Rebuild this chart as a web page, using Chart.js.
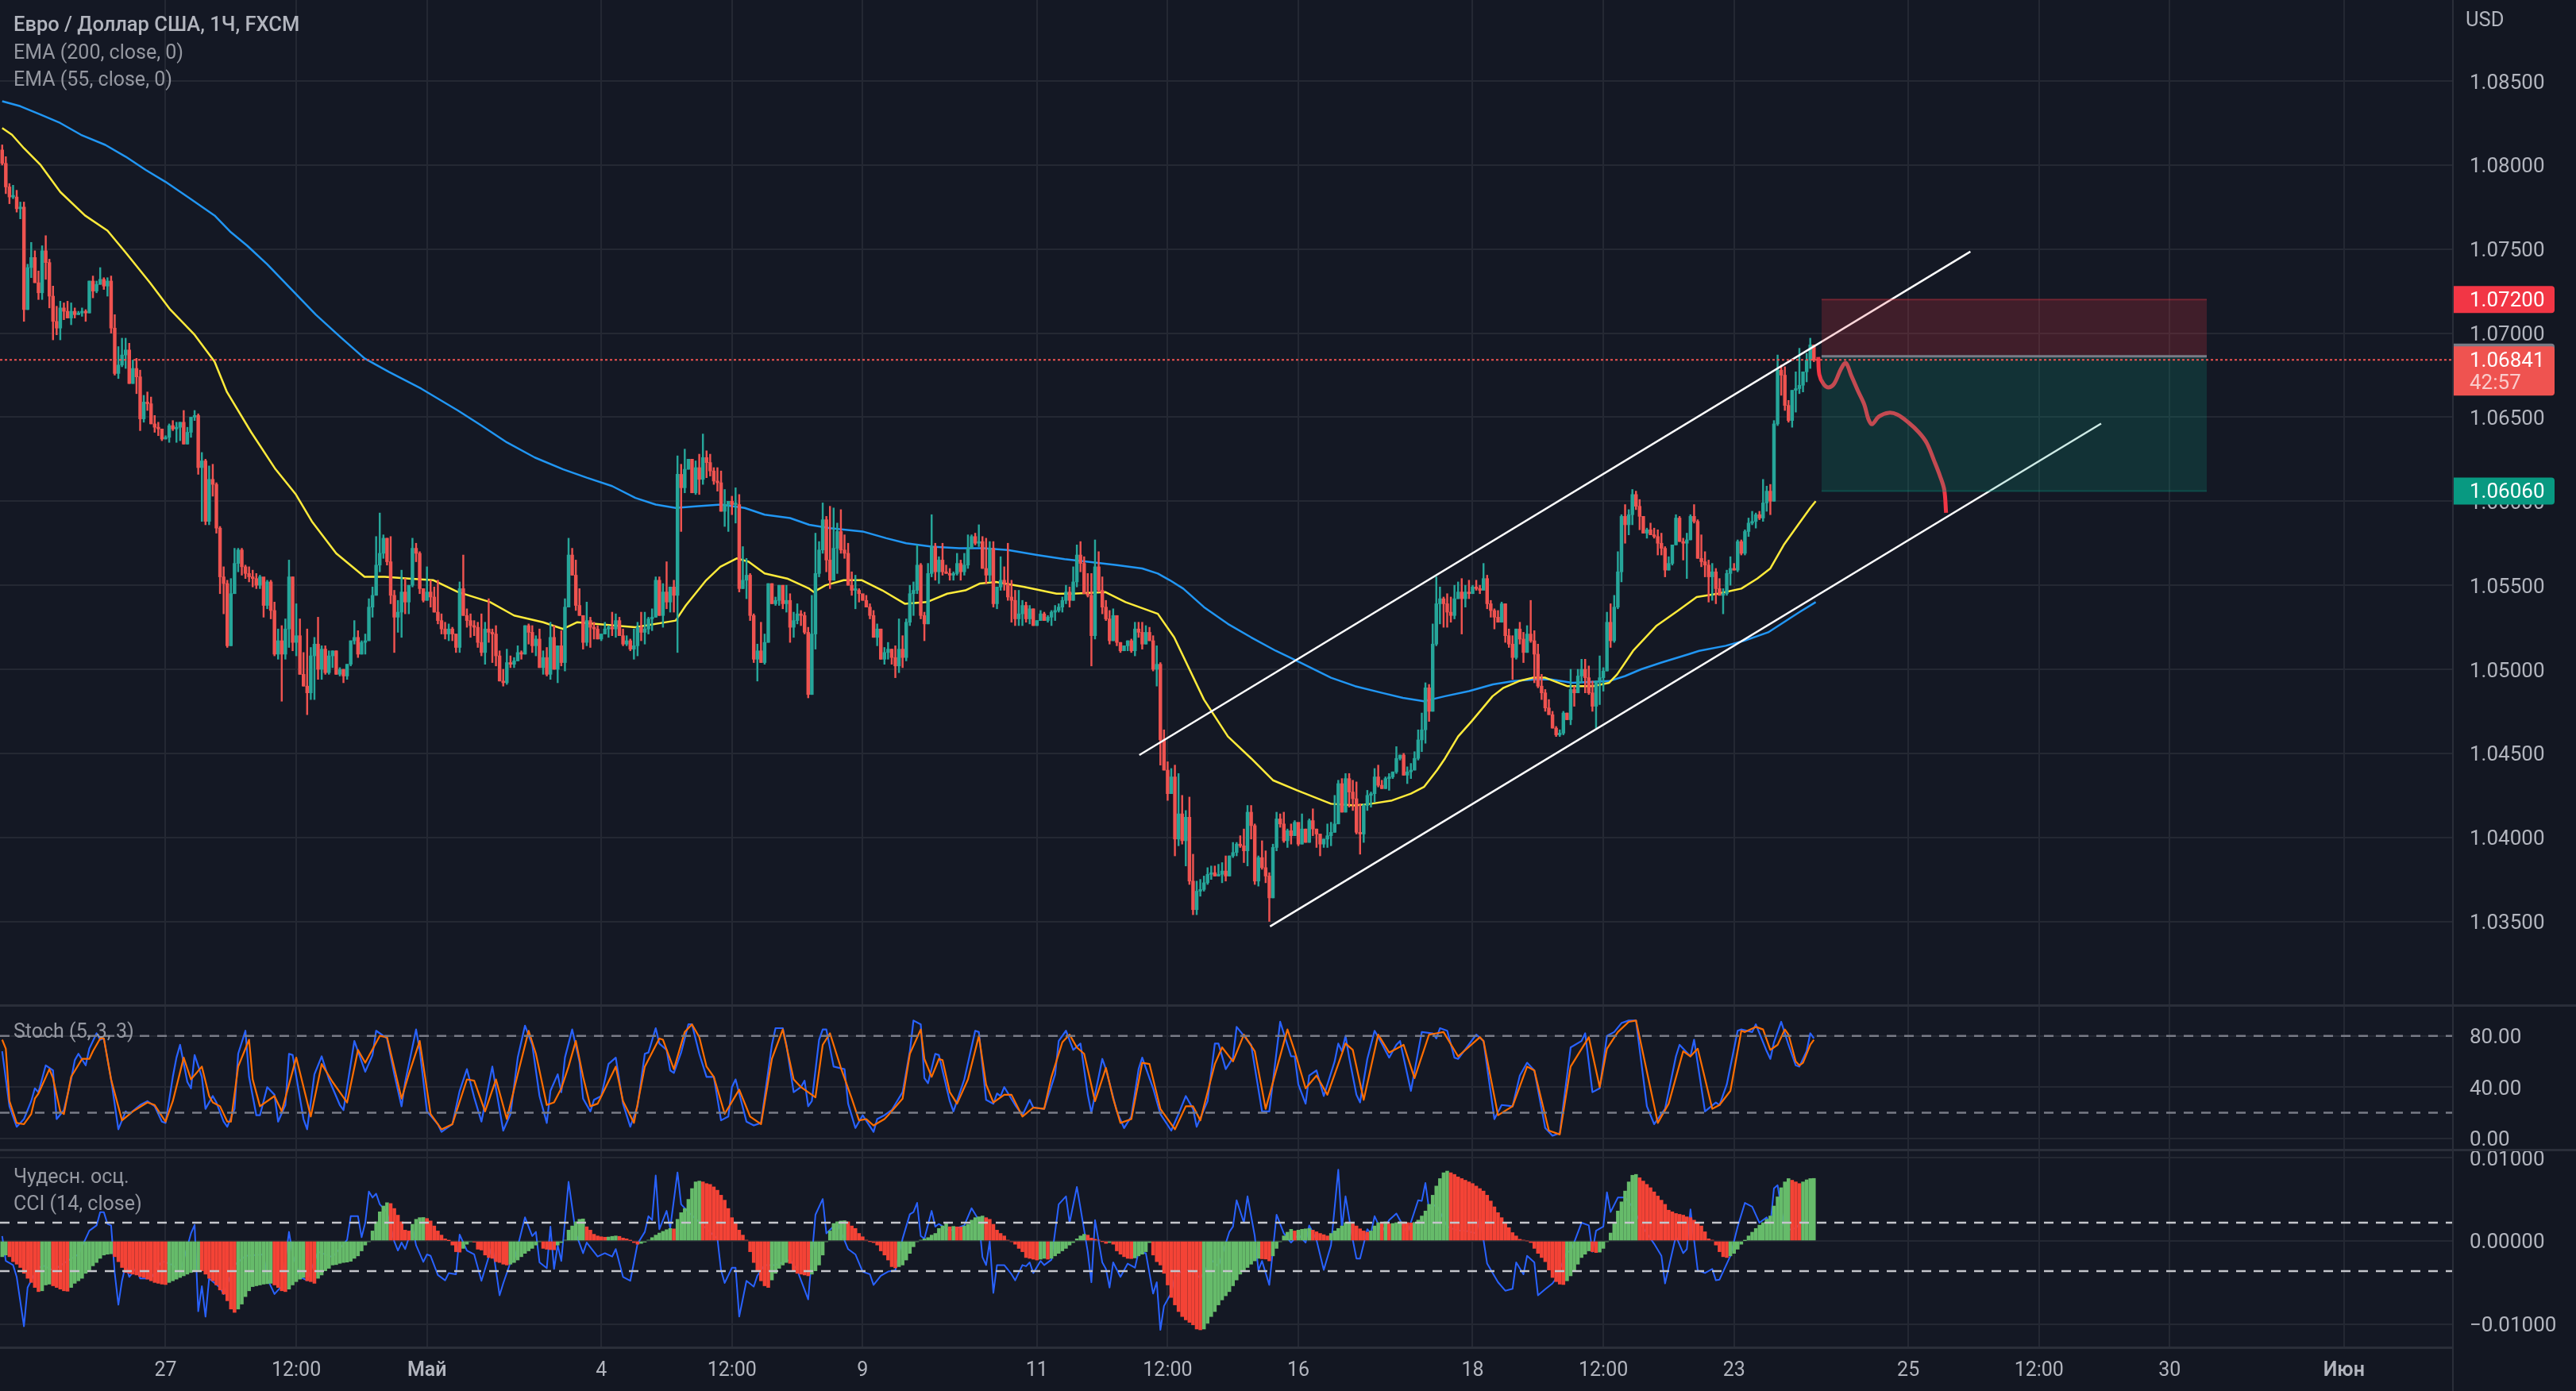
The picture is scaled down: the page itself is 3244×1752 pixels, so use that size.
<!DOCTYPE html>
<html><head><meta charset="utf-8">
<script src="https://cdn.jsdelivr.net/npm/chart.js@4"></script>
<style>
html,body{margin:0;padding:0;background:#131722;width:3244px;height:1752px;overflow:hidden}
canvas{position:absolute;left:0;display:block}
.sep{position:absolute;background:#2a2e39}
</style></head><body>
<canvas id="main" width="3244" height="1266" style="top:0;width:3244px;height:1266px"></canvas>
<canvas id="stoch" width="3244" height="182" style="top:1266px;width:3244px;height:182px"></canvas>
<canvas id="wonder" width="3244" height="304" style="top:1448px;width:3244px;height:304px"></canvas>
<div class="sep" style="left:0;top:1265px;width:3244px;height:3px"></div>
<div class="sep" style="left:0;top:1447px;width:3244px;height:3px"></div>
<div class="sep" style="left:0;top:1696px;width:3089px;height:3px"></div>
<div class="sep" style="left:3088px;top:0;width:2px;height:1752px"></div>
<script>
const closes=[
1.0801,1.0787,1.0781,1.0781,1.0774,1.0775,1.0714,1.0739,1.0745,1.0730,1.0724,1.0749,1.0742,1.0722,1.0707,1.0703,1.0715,1.0713,1.0709,1.0713,
1.0711,1.0712,1.0713,1.0712,1.0731,1.0725,1.0729,1.0732,1.0728,1.0731,1.0703,1.0676,1.0681,1.0687,1.0690,1.0670,1.0679,1.0674,1.0649,1.0659,
1.0658,1.0646,1.0644,1.0643,1.0637,1.0638,1.0645,1.0643,1.0644,1.0647,1.0634,1.0641,1.0650,1.0651,1.0620,1.0624,1.0588,1.0613,1.0610,1.0584,
1.0555,1.0551,1.0514,1.0545,1.0563,1.0571,1.0561,1.0557,1.0555,1.0554,1.0550,1.0555,1.0538,1.0552,1.0535,1.0509,1.0517,1.0509,1.0524,1.0555,
1.0516,1.0520,1.0497,1.0490,1.0486,1.0508,1.0515,1.0500,1.0512,1.0498,1.0508,1.0511,1.0497,1.0500,1.0496,1.0503,1.0517,1.0519,1.0509,1.0516,
1.0517,1.0537,1.0544,1.0562,1.0569,1.0578,1.0564,1.0544,1.0531,1.0534,1.0546,1.0540,1.0550,1.0572,1.0569,1.0548,1.0541,1.0546,1.0543,1.0534,
1.0529,1.0524,1.0521,1.0524,1.0521,1.0513,1.0548,1.0532,1.0529,1.0526,1.0525,1.0516,1.0510,1.0524,1.0522,1.0521,1.0508,1.0493,1.0492,1.0504,
1.0503,1.0505,1.0510,1.0509,1.0526,1.0522,1.0514,1.0518,1.0501,1.0507,1.0497,1.0519,1.0500,1.0514,1.0504,1.0537,1.0568,1.0556,1.0538,1.0532,
1.0516,1.0529,1.0525,1.0524,1.0518,1.0521,1.0524,1.0525,1.0524,1.0529,1.0520,1.0515,1.0517,1.0512,1.0514,1.0525,1.0522,1.0524,1.0530,1.0531,
1.0553,1.0532,1.0546,1.0540,1.0549,1.0544,1.0616,1.0608,1.0619,1.0625,1.0605,1.0620,1.0613,1.0626,1.0623,1.0618,1.0612,1.0611,1.0594,1.0598,
1.0600,1.0598,1.0598,1.0548,1.0553,1.0556,1.0532,1.0506,1.0511,1.0504,1.0516,1.0551,1.0539,1.0541,1.0550,1.0539,1.0541,1.0525,1.0529,1.0533,
1.0532,1.0522,1.0485,1.0521,1.0557,1.0571,1.0589,1.0565,1.0553,1.0572,1.0582,1.0571,1.0569,1.0550,1.0547,1.0547,1.0545,1.0541,1.0537,1.0532,
1.0519,1.0524,1.0506,1.0510,1.0512,1.0507,1.0502,1.0512,1.0507,1.0528,1.0545,1.0547,1.0562,1.0532,1.0527,1.0557,1.0573,1.0558,1.0565,1.0558,
1.0557,1.0556,1.0557,1.0563,1.0558,1.0562,1.0572,1.0579,1.0575,1.0576,1.0560,1.0556,1.0572,1.0539,1.0549,1.0553,1.0551,1.0543,1.0541,1.0530,
1.0533,1.0538,1.0530,1.0536,1.0526,1.0529,1.0533,1.0529,1.0531,1.0534,1.0535,1.0537,1.0541,1.0546,1.0541,1.0552,1.0568,1.0563,1.0545,1.0544,
1.0520,1.0561,1.0547,1.0537,1.0530,1.0517,1.0532,1.0516,1.0511,1.0514,1.0517,1.0511,1.0524,1.0522,1.0515,1.0522,1.0517,1.0500,1.0503,1.0458,
1.0440,1.0426,1.0436,1.0399,1.0414,1.0398,1.0412,1.0374,1.0357,1.0368,1.0369,1.0373,1.0378,1.0379,1.0377,1.0378,1.0380,1.0377,1.0389,1.0391,
1.0396,1.0395,1.0392,1.0415,1.0407,1.0374,1.0388,1.0382,1.0377,1.0364,1.0394,1.0411,1.0408,1.0398,1.0404,1.0401,1.0409,1.0396,1.0405,1.0397,
1.0410,1.0405,1.0402,1.0396,1.0399,1.0401,1.0403,1.0408,1.0432,1.0415,1.0435,1.0427,1.0423,1.0403,1.0402,1.0419,1.0425,1.0426,1.0436,1.0431,
1.0429,1.0435,1.0436,1.0439,1.0447,1.0449,1.0437,1.0439,1.0440,1.0447,1.0458,1.0464,1.0489,1.0475,1.0515,1.0539,1.0542,1.0539,1.0534,1.0532,
1.0542,1.0546,1.0542,1.0546,1.0545,1.0549,1.0548,1.0547,1.0554,1.0539,1.0535,1.0531,1.0528,1.0539,1.0520,1.0515,1.0507,1.0524,1.0518,1.0510,
1.0521,1.0517,1.0509,1.0490,1.0486,1.0477,1.0473,1.0465,1.0461,1.0462,1.0474,1.0470,1.0488,1.0486,1.0496,1.0500,1.0495,1.0486,1.0478,1.0493,
1.0495,1.0499,1.0528,1.0517,1.0537,1.0558,1.0591,1.0586,1.0592,1.0604,1.0597,1.0591,1.0581,1.0583,1.0580,1.0579,1.0575,1.0572,1.0559,1.0563,
1.0574,1.0590,1.0576,1.0575,1.0577,1.0591,1.0588,1.0566,1.0564,1.0562,1.0555,1.0558,1.0548,1.0544,1.0545,1.0557,1.0560,1.0559,1.0576,1.0569,
1.0582,1.0587,1.0588,1.0592,1.0590,1.0599,1.0606,1.0600,1.0646,1.0678,1.0675,1.0657,1.0648,1.0666,1.0667,1.0669,1.0677,1.0684,1.0693,1.0684];
const highs=[
1.0812,1.0805,1.0789,1.0788,1.0785,1.0778,1.0778,1.0741,1.0754,1.0749,1.0737,1.0752,1.0758,1.0744,1.0728,1.0716,1.0719,1.0718,1.0719,1.0718,
1.0715,1.0713,1.0715,1.0714,1.0731,1.0734,1.0731,1.0739,1.0733,1.0733,1.0734,1.0711,1.0692,1.0697,1.0697,1.0694,1.0684,1.0685,1.0678,1.0663,
1.0665,1.0662,1.0651,1.0647,1.0643,1.0639,1.0646,1.0648,1.0647,1.0647,1.0654,1.0644,1.0650,1.0654,1.0652,1.0629,1.0625,1.0621,1.0622,1.0611,
1.0585,1.0561,1.0553,1.0554,1.0572,1.0572,1.0572,1.0562,1.0561,1.0559,1.0557,1.0556,1.0554,1.0553,1.0553,1.0540,1.0524,1.0526,1.0530,1.0565,
1.0555,1.0539,1.0530,1.0510,1.0524,1.0513,1.0519,1.0531,1.0514,1.0514,1.0511,1.0511,1.0511,1.0501,1.0500,1.0503,1.0517,1.0529,1.0523,1.0517,
1.0521,1.0542,1.0549,1.0579,1.0593,1.0580,1.0578,1.0579,1.0547,1.0541,1.0559,1.0554,1.0550,1.0578,1.0575,1.0570,1.0548,1.0561,1.0553,1.0549,
1.0553,1.0533,1.0528,1.0527,1.0525,1.0521,1.0552,1.0568,1.0536,1.0533,1.0529,1.0528,1.0533,1.0528,1.0542,1.0524,1.0526,1.0511,1.0500,1.0512,
1.0508,1.0507,1.0514,1.0511,1.0526,1.0527,1.0526,1.0520,1.0524,1.0511,1.0513,1.0528,1.0526,1.0514,1.0523,1.0542,1.0578,1.0572,1.0565,1.0548,
1.0532,1.0540,1.0531,1.0528,1.0526,1.0521,1.0528,1.0526,1.0534,1.0533,1.0531,1.0524,1.0520,1.0518,1.0524,1.0528,1.0534,1.0534,1.0531,1.0536,
1.0555,1.0555,1.0551,1.0564,1.0549,1.0553,1.0627,1.0622,1.0631,1.0625,1.0625,1.0624,1.0628,1.0640,1.0630,1.0628,1.0620,1.0620,1.0618,1.0607,
1.0600,1.0603,1.0608,1.0604,1.0573,1.0566,1.0557,1.0533,1.0515,1.0528,1.0521,1.0551,1.0551,1.0543,1.0550,1.0550,1.0550,1.0545,1.0534,1.0539,
1.0535,1.0534,1.0525,1.0544,1.0581,1.0576,1.0599,1.0591,1.0597,1.0596,1.0587,1.0595,1.0580,1.0575,1.0558,1.0556,1.0548,1.0544,1.0544,1.0539,
1.0535,1.0527,1.0524,1.0513,1.0516,1.0512,1.0514,1.0530,1.0520,1.0530,1.0550,1.0552,1.0574,1.0563,1.0534,1.0563,1.0592,1.0575,1.0567,1.0575,
1.0562,1.0560,1.0558,1.0569,1.0565,1.0569,1.0580,1.0580,1.0581,1.0586,1.0579,1.0578,1.0576,1.0576,1.0549,1.0567,1.0561,1.0575,1.0553,1.0547,
1.0547,1.0541,1.0540,1.0538,1.0536,1.0529,1.0535,1.0534,1.0532,1.0535,1.0538,1.0539,1.0543,1.0550,1.0549,1.0561,1.0574,1.0576,1.0567,1.0557,
1.0557,1.0577,1.0570,1.0555,1.0541,1.0535,1.0536,1.0532,1.0516,1.0514,1.0517,1.0518,1.0528,1.0528,1.0528,1.0526,1.0525,1.0520,1.0514,1.0504,
1.0464,1.0445,1.0441,1.0443,1.0438,1.0425,1.0416,1.0424,1.0390,1.0374,1.0375,1.0377,1.0382,1.0383,1.0383,1.0384,1.0385,1.0389,1.0389,1.0397,
1.0397,1.0401,1.0405,1.0419,1.0419,1.0408,1.0389,1.0398,1.0392,1.0379,1.0396,1.0415,1.0414,1.0415,1.0405,1.0408,1.0410,1.0405,1.0414,1.0405,
1.0411,1.0417,1.0405,1.0402,1.0399,1.0408,1.0409,1.0425,1.0434,1.0435,1.0438,1.0438,1.0434,1.0433,1.0420,1.0420,1.0428,1.0427,1.0441,1.0443,
1.0434,1.0436,1.0438,1.0439,1.0454,1.0449,1.0450,1.0442,1.0444,1.0451,1.0464,1.0474,1.0492,1.0491,1.0527,1.0555,1.0549,1.0543,1.0545,1.0543,
1.0550,1.0552,1.0554,1.0550,1.0553,1.0550,1.0553,1.0550,1.0563,1.0556,1.0541,1.0536,1.0535,1.0540,1.0539,1.0524,1.0520,1.0524,1.0528,1.0522,
1.0526,1.0541,1.0523,1.0515,1.0497,1.0488,1.0482,1.0475,1.0466,1.0464,1.0475,1.0474,1.0500,1.0490,1.0500,1.0506,1.0506,1.0502,1.0493,1.0493,
1.0508,1.0501,1.0534,1.0539,1.0544,1.0570,1.0592,1.0598,1.0595,1.0607,1.0606,1.0601,1.0591,1.0584,1.0587,1.0584,1.0583,1.0581,1.0573,1.0567,
1.0574,1.0592,1.0591,1.0578,1.0581,1.0592,1.0598,1.0589,1.0580,1.0570,1.0565,1.0563,1.0560,1.0554,1.0548,1.0559,1.0567,1.0563,1.0577,1.0577,
1.0583,1.0590,1.0594,1.0593,1.0594,1.0613,1.0609,1.0610,1.0648,1.0687,1.0681,1.0680,1.0660,1.0666,1.0677,1.0691,1.0677,1.0688,1.0697,1.0693];
const lows=[
1.0800,1.0783,1.0777,1.0780,1.0772,1.0768,1.0707,1.0714,1.0733,1.0730,1.0720,1.0720,1.0732,1.0715,1.0696,1.0699,1.0696,1.0708,1.0709,1.0705,
1.0709,1.0711,1.0710,1.0707,1.0712,1.0721,1.0724,1.0729,1.0726,1.0722,1.0700,1.0675,1.0673,1.0680,1.0679,1.0670,1.0670,1.0664,1.0642,1.0647,
1.0654,1.0646,1.0641,1.0639,1.0636,1.0637,1.0635,1.0642,1.0635,1.0636,1.0634,1.0634,1.0638,1.0648,1.0616,1.0588,1.0586,1.0586,1.0603,1.0581,
1.0545,1.0533,1.0513,1.0514,1.0545,1.0558,1.0556,1.0554,1.0552,1.0549,1.0548,1.0548,1.0531,1.0536,1.0530,1.0508,1.0506,1.0481,1.0506,1.0513,
1.0511,1.0508,1.0497,1.0490,1.0473,1.0482,1.0482,1.0494,1.0494,1.0497,1.0497,1.0501,1.0497,1.0496,1.0492,1.0494,1.0502,1.0515,1.0507,1.0509,
1.0509,1.0517,1.0531,1.0544,1.0558,1.0566,1.0562,1.0539,1.0510,1.0522,1.0519,1.0533,1.0533,1.0549,1.0564,1.0545,1.0540,1.0541,1.0537,1.0534,
1.0527,1.0521,1.0518,1.0517,1.0517,1.0510,1.0510,1.0532,1.0525,1.0519,1.0520,1.0513,1.0508,1.0503,1.0516,1.0504,1.0502,1.0493,1.0490,1.0491,
1.0501,1.0501,1.0505,1.0506,1.0509,1.0515,1.0510,1.0508,1.0501,1.0497,1.0496,1.0494,1.0500,1.0492,1.0502,1.0499,1.0537,1.0556,1.0535,1.0532,
1.0512,1.0514,1.0513,1.0518,1.0518,1.0517,1.0521,1.0519,1.0520,1.0519,1.0520,1.0514,1.0514,1.0511,1.0506,1.0508,1.0517,1.0515,1.0521,1.0523,
1.0531,1.0532,1.0525,1.0536,1.0534,1.0534,1.0510,1.0582,1.0605,1.0619,1.0605,1.0604,1.0604,1.0610,1.0614,1.0615,1.0610,1.0606,1.0594,1.0585,
1.0582,1.0592,1.0587,1.0546,1.0548,1.0542,1.0529,1.0504,1.0493,1.0504,1.0503,1.0516,1.0539,1.0538,1.0538,1.0536,1.0534,1.0516,1.0519,1.0527,
1.0526,1.0521,1.0483,1.0485,1.0512,1.0555,1.0569,1.0558,1.0548,1.0553,1.0557,1.0569,1.0566,1.0550,1.0544,1.0536,1.0540,1.0541,1.0537,1.0530,
1.0519,1.0514,1.0506,1.0503,1.0506,1.0503,1.0495,1.0498,1.0501,1.0505,1.0526,1.0532,1.0545,1.0530,1.0517,1.0527,1.0555,1.0553,1.0551,1.0556,
1.0557,1.0553,1.0553,1.0556,1.0553,1.0556,1.0560,1.0572,1.0574,1.0573,1.0560,1.0551,1.0552,1.0537,1.0536,1.0547,1.0547,1.0541,1.0528,1.0526,
1.0526,1.0526,1.0528,1.0527,1.0526,1.0526,1.0529,1.0529,1.0528,1.0526,1.0529,1.0534,1.0534,1.0539,1.0537,1.0541,1.0549,1.0558,1.0545,1.0543,
1.0502,1.0518,1.0546,1.0533,1.0529,1.0515,1.0517,1.0514,1.0510,1.0511,1.0511,1.0510,1.0508,1.0519,1.0512,1.0515,1.0517,1.0499,1.0490,1.0443,
1.0440,1.0422,1.0426,1.0389,1.0395,1.0396,1.0383,1.0372,1.0354,1.0354,1.0365,1.0368,1.0372,1.0375,1.0377,1.0377,1.0373,1.0374,1.0377,1.0388,
1.0389,1.0394,1.0385,1.0383,1.0399,1.0372,1.0371,1.0381,1.0373,1.0350,1.0364,1.0392,1.0406,1.0397,1.0394,1.0396,1.0401,1.0395,1.0396,1.0397,
1.0397,1.0401,1.0394,1.0389,1.0394,1.0394,1.0395,1.0403,1.0408,1.0415,1.0415,1.0418,1.0416,1.0402,1.0390,1.0397,1.0416,1.0418,1.0421,1.0430,
1.0429,1.0429,1.0428,1.0435,1.0438,1.0446,1.0437,1.0432,1.0435,1.0440,1.0446,1.0451,1.0456,1.0469,1.0475,1.0514,1.0527,1.0525,1.0525,1.0528,
1.0530,1.0542,1.0521,1.0537,1.0542,1.0545,1.0547,1.0545,1.0548,1.0536,1.0531,1.0524,1.0528,1.0528,1.0516,1.0513,1.0494,1.0506,1.0515,1.0504,
1.0510,1.0516,1.0492,1.0489,1.0482,1.0475,1.0473,1.0465,1.0460,1.0460,1.0461,1.0470,1.0467,1.0478,1.0486,1.0492,1.0486,1.0485,1.0475,1.0465,
1.0479,1.0487,1.0499,1.0513,1.0516,1.0536,1.0552,1.0575,1.0580,1.0586,1.0595,1.0583,1.0581,1.0578,1.0580,1.0578,1.0568,1.0568,1.0555,1.0559,
1.0562,1.0574,1.0576,1.0565,1.0554,1.0577,1.0587,1.0566,1.0561,1.0555,1.0540,1.0541,1.0539,1.0544,1.0533,1.0544,1.0550,1.0559,1.0558,1.0568,
1.0568,1.0579,1.0586,1.0584,1.0589,1.0588,1.0594,1.0592,1.0600,1.0645,1.0663,1.0654,1.0647,1.0644,1.0653,1.0664,1.0665,1.0671,1.0679,1.0683];
const firstOpen=1.0809;
const opens=closes.map((c,k)=>k?closes[k-1]:firstOpen);

// [bar, value]
const ema200=[[1,1.0838],[6,1.0835],[11.6,1.0830],[17,1.0825],[22.7,1.0818],[29.4,1.0812],[35,1.0805],[40.6,1.0797],[46,1.0790],[52.8,1.0780],[59.5,1.0770],[64,1.0760],[68.5,1.0752],[74,1.0741],[80.7,1.0726],[87.4,1.0711],[94,1.0698],[100.8,1.0685],[107.5,1.0677],[116.4,1.0667],[126.5,1.0654],[133,1.0645],[140,1.0635],[147.7,1.0626],[155.5,1.0619],[162,1.0614],[169,1.0609],[175.4,1.0602],[181,1.0598],[186.5,1.0596],[192,1.0597],[199,1.0598],[205.5,1.0596],[211,1.0592],[218,1.0590],[223.3,1.0586],[229,1.0584],[238,1.0582],[244.5,1.0578],[250,1.0575],[257,1.0573],[264.6,1.0572],[271.3,1.0572],[278,1.0571],[286,1.0568],[293.6,1.05655],[300,1.0564],[308,1.0562],[315,1.0560],[319.3,1.0557],[322.6,1.0553],[326.3,1.0548],[332,1.0537],[338.6,1.0527],[345,1.0519],[351.8,1.0511],[357.6,1.0505],[367,1.0495],[373.6,1.0490],[381,1.0486],[386.8,1.0483],[392.6,1.0481],[398.4,1.0484],[405,1.0487],[411.6,1.0491],[417.4,1.0493],[423,1.0494],[427.6,1.0494],[433.4,1.0492],[443.6,1.0493],[448,1.0496],[452.4,1.0500],[458,1.0504],[465.5,1.0509],[468.4,1.0511],[475.7,1.0514],[480.8,1.0517],[487.4,1.0522],[491.7,1.0528],[496,1.0534],[500.5,1.0540]];
const ema55=[[1,1.0822],[3.7,1.0818],[7,1.0810],[11.6,1.0800],[17,1.0784],[23.8,1.0770],[30,1.0761],[35,1.0748],[41.7,1.0730],[47.3,1.0714],[54,1.0699],[59.5,1.0683],[62.9,1.0665],[69.6,1.0641],[76.3,1.0619],[81.9,1.0604],[86.3,1.0588],[93,1.0569],[100.8,1.0555],[106.4,1.0555],[113,1.0554],[119.8,1.0553],[126.5,1.0546],[135.4,1.0540],[142,1.0532],[150,1.0528],[155.5,1.0524],[159.4,1.0528],[170,1.0526],[175.4,1.0525],[186.5,1.0529],[189.3,1.0538],[194.9,1.0553],[198.8,1.0561],[203.3,1.0566],[206.6,1.0564],[211,1.0557],[217.2,1.0554],[223.3,1.0548],[224.5,1.0546],[227.8,1.0550],[232.8,1.0553],[237.8,1.0553],[243.4,1.0547],[249.6,1.0539],[255.7,1.0540],[261.3,1.0545],[266.3,1.0547],[270.2,1.0551],[274.7,1.0552],[282.5,1.0549],[291.4,1.0545],[295.9,1.0545],[304.8,1.0546],[310.4,1.0540],[319.3,1.0533],[323.8,1.0519],[332,1.0482],[338.6,1.0460],[345,1.0447],[351,1.0434],[357.6,1.0428],[367,1.0420],[373.6,1.0419],[378,1.0420],[383.8,1.0422],[389,1.0426],[392.6,1.0430],[396.2,1.0440],[398.4,1.0447],[402,1.0460],[405.7,1.0469],[411.5,1.0484],[414.5,1.0489],[418.8,1.0493],[422.5,1.0495],[426,1.0495],[432,1.0490],[439.2,1.0490],[443.6,1.0492],[445.8,1.0497],[450.2,1.0511],[456.7,1.0526],[462.6,1.0535],[467.7,1.0543],[473.5,1.0545],[480,1.0548],[484.4,1.0554],[488,1.0560],[491.7,1.0574],[496,1.0587],[499,1.0596],[500.5,1.0600]];
const channelUpper=[[314.2,1.0449],[543.1,1.07485]];
const channelLower=[[350.2,1.0347],[579.1,1.06462]];
const forecast=[[501.2,1.06858],[501.5,1.06753],[502.7,1.06696],[504.1,1.06677],[505.6,1.06700],[507.5,1.06789],[508.8,1.06823],[510.2,1.06753],[512.1,1.06658],[513.9,1.06574],[515,1.06489],[516,1.06458],[517.9,1.06504],[520.6,1.06526],[523,1.06515],[526,1.06469],[528.9,1.06410],[531.1,1.06346],[533.2,1.06236],[534.7,1.06152],[535.9,1.06068],[536.4,1.05931]];
const boxBars=[502.1,608.2];
const stopPrice=1.0720, entryPrice=1.06862, targetPrice=1.0606, lastPrice=1.06841;

const stochK=[[1,68],[3,25],[5,9],[7,15],[9,29],[10,39],[11,36],[13,57],[15,53],[16,15],[18,22],[20,46],[21,61],[22,66],[24,57],[25,70],[27,82],[28,77],[29,78],[31,46],[33,7],[35,21],[36,19],[39,26],[41,29],[43,25],[45,13],[46,12],[48,48],[49,63],[50,73],[52,44],[53,39],[54,65],[56,48],[57,23],[59,33],[60,28],[62,13],[63,9],[65,23],[66,66],[68,84],[69,48],[71,18],[72,18],[74,40],[76,34],[77,13],[79,26],[80,66],[81,65],[84,15],[85,7],[87,50],[89,64],[91,46],[94,26],[95,22],[98,76],[99,68],[101,52],[103,65],[104,84],[107,78],[109,50],[111,25],[112,44],[115,85],[116,69],[118,21],[121,11],[122,5],[125,11],[127,37],[129,54],[131,32],[133,13],[136,56],[137,39],[139,6],[141,19],[143,63],[145,88],[147,73],[149,33],[151,12],[152,37],[154,50],[155,36],[156,63],[158,85],[160,60],[161,31],[163,21],[164,30],[166,33],[168,58],[170,63],[172,27],[174,9],[176,25],[178,66],[179,67],[181,86],[182,74],[184,69],[185,53],[186,51],[188,67],[190,89],[191,89],[193,66],[195,48],[197,48],[199,14],[201,17],[202,40],[203,46],[206,13],[208,10],[210,12],[213,73],[214,86],[216,86],[217,73],[219,36],[221,40],[222,45],[223,25],[224,29],[226,77],[227,85],[228,85],[230,56],[233,54],[234,27],[236,8],[238,18],[241,5],[242,15],[244,18],[246,22],[249,36],[251,68],[252,92],[254,89],[255,47],[256,43],[258,66],[259,65],[262,29],[263,21],[266,46],[269,84],[270,83],[272,30],[274,27],[275,35],[276,33],[277,40],[280,26],[282,18],[284,30],[285,24],[288,23],[291,50],[292,76],[294,84],[296,69],[298,74],[300,34],[301,20],[304,62],[305,54],[308,21],[310,8],[312,17],[314,54],[315,63],[318,39],[320,19],[323,6],[325,19],[327,33],[329,23],[330,9],[333,29],[335,74],[336,74],[338,54],[340,63],[341,87],[345,73],[348,21],[350,21],[353,91],[356,64],[357,64],[358,42],[360,27],[361,49],[363,53],[365,33],[368,60],[369,74],[370,68],[371,80],[372,63],[374,34],[375,28],[377,62],[379,84],[381,74],[383,63],[385,73],[386,76],[389,37],[392,83],[395,82],[396,78],[397,86],[399,84],[401,63],[402,62],[407,81],[409,76],[412,15],[414,26],[417,25],[419,49],[421,59],[423,53],[426,8],[428,2],[430,4],[433,71],[436,76],[437,82],[439,36],[441,39],[443,80],[445,83],[447,90],[449,92],[451,92],[454,25],[456,11],[459,23],[462,64],[463,73],[466,64],[467,77],[470,21],[473,28],[474,26],[476,42],[479,84],[480,85],[483,83],[484,89],[487,68],[488,62],[489,75],[491,91],[493,73],[495,57],[496,56],[498,68],[499,82],[500,78]];
const stochD=[[1,77],[2,70],[3,29],[5,12],[7,11],[9,19],[10,31],[11,35],[14,54],[15,47],[17,21],[18,19],[20,48],[23,62],[25,62],[26,68],[28,78],[29,78],[31,46],[34,14],[37,21],[41,28],[43,26],[46,13],[48,29],[51,63],[53,46],[56,56],[58,33],[59,28],[61,25],[63,13],[64,13],[66,56],[69,77],[70,46],[72,25],[76,33],[78,21],[82,63],[86,17],[89,58],[92,44],[96,28],[99,69],[101,59],[105,80],[107,79],[111,31],[113,50],[116,76],[119,19],[122,7],[125,11],[129,46],[131,45],[134,21],[137,46],[140,15],[143,50],[146,84],[148,66],[151,26],[153,28],[155,39],[157,56],[159,76],[161,48],[163,25],[165,27],[170,56],[172,29],[175,12],[178,56],[182,78],[183,77],[186,54],[189,83],[191,89],[193,79],[195,56],[197,48],[200,19],[204,38],[207,17],[210,11],[213,62],[216,85],[219,46],[221,40],[225,32],[227,73],[229,82],[232,55],[235,31],[237,14],[239,15],[241,10],[244,15],[245,18],[249,31],[251,66],[254,85],[255,62],[257,48],[259,62],[260,61],[262,36],[264,27],[267,46],[270,80],[272,42],[274,28],[277,34],[279,34],[282,17],[285,24],[288,23],[290,48],[293,75],[295,81],[297,71],[299,66],[302,29],[305,55],[307,31],[309,12],[312,15],[315,59],[317,58],[320,23],[324,7],[327,25],[329,25],[331,14],[335,58],[337,71],[340,60],[343,81],[346,68],[349,23],[355,85],[357,68],[360,39],[363,49],[366,34],[371,74],[373,69],[376,30],[380,81],[383,67],[387,73],[390,47],[394,81],[396,82],[398,83],[402,64],[408,79],[409,76],[413,18],[417,25],[421,56],[423,53],[427,6],[430,3],[433,56],[438,79],[441,40],[443,70],[446,83],[449,91],[451,92],[457,12],[460,27],[464,68],[466,64],[468,70],[472,23],[474,26],[477,37],[480,84],[481,83],[484,87],[486,85],[488,69],[490,73],[492,85],[493,81],[495,60],[496,57],[497,59],[499,73],[500,77]];
const stochBands=[80,20];
const cci=[[1,45],[2,-58],[4,-75],[5,-124],[7,-328],[8,-168],[10,-108],[12,-75],[15,-97],[19,-58],[22,-31],[25,67],[27,89],[28,144],[29,144],[30,95],[31,89],[32,-108],[33,-239],[34,-140],[35,-75],[36,-124],[38,-86],[39,-130],[42,-130],[45,-58],[48,-75],[50,-108],[53,56],[54,91],[55,-266],[56,-162],[57,-288],[58,-130],[61,-168],[62,-195],[65,-75],[68,-37],[73,-31],[74,-130],[76,-195],[78,-162],[80,62],[81,-31],[83,-124],[85,-138],[88,-20],[92,-42],[96,29],[97,127],[99,127],[100,40],[101,100],[102,229],[103,204],[104,220],[105,176],[107,144],[109,23],[110,-15],[111,18],[112,-9],[114,84],[115,7],[117,-62],[118,-31],[119,-37],[121,-116],[123,-138],[124,-108],[126,-113],[127,51],[129,-15],[131,-31],[133,-140],[135,-42],[136,7],[138,-200],[139,-151],[141,-64],[142,-58],[145,122],[147,45],[148,62],[149,-64],[151,-88],[152,84],[153,-91],[154,7],[155,-58],[157,269],[159,56],[161,-26],[162,18],[165,-40],[167,-26],[169,-40],[170,-9],[172,-124],[174,-140],[176,13],[178,62],[179,127],[180,111],[181,295],[182,73],[184,149],[185,78],[187,308],[188,176],[190,144],[194,89],[198,34],[199,-97],[200,-149],[202,-86],[203,-86],[204,-288],[206,-140],[208,-164],[209,-119],[211,-75],[214,-75],[218,-53],[220,-97],[223,-217],[225,133],[227,198],[228,56],[231,100],[234,-9],[236,-31],[238,-102],[240,-113],[241,-157],[243,-119],[245,-102],[247,-97],[249,34],[251,135],[252,144],[253,182],[254,45],[255,34],[257,149],[258,84],[259,95],[262,67],[266,89],[268,160],[270,111],[271,-42],[272,-75],[273,23],[274,-190],[275,-75],[277,-75],[279,-113],[280,-138],[282,-75],[283,-80],[284,-64],[285,-108],[287,-58],[288,-75],[290,-53],[292,176],[294,209],[295,100],[297,248],[298,160],[300,-20],[301,-146],[302,111],[304,-64],[305,-91],[306,-168],[307,-64],[309,-124],[311,-69],[313,-86],[314,-20],[316,-26],[318,-193],[319,-146],[320,-343],[321,-244],[323,-190],[324,-124],[326,-97],[329,-97],[331,-130],[334,-53],[336,-80],[339,62],[340,84],[341,193],[343,100],[344,209],[346,45],[347,-97],[348,-58],[350,-157],[352,133],[354,56],[356,18],[358,51],[360,18],[361,89],[363,29],[365,-95],[367,7],[369,319],[370,78],[371,209],[373,29],[374,-48],[375,-48],[377,73],[378,56],[379,127],[381,62],[383,111],[385,138],[388,56],[391,193],[392,190],[393,264],[394,155],[396,176],[399,84],[402,67],[404,67],[407,56],[408,127],[410,-69],[413,-146],[415,-181],[417,-173],[418,-64],[420,-113],[421,-37],[423,-64],[424,-200],[426,-175],[428,-151],[429,-130],[432,-20],[433,-20],[436,100],[438,89],[439,-20],[440,67],[442,84],[443,226],[444,144],[446,204],[448,204],[450,166],[453,78],[456,13],[458,-37],[459,-151],[462,45],[464,-26],[465,-9],[466,155],[468,-97],[470,-108],[472,-91],[473,-138],[474,-135],[477,-37],[479,84],[481,182],[483,166],[485,100],[487,122],[488,89],[489,242],[490,255],[492,67],[495,78],[497,111],[500,89]];
const cciBands=[100,-100];
// Wonder oscillator, in units of 0.0001
const wonderRaw=[
-19,-17,-19,-25,-28,-32,-39,-45,-50,-56,-61,-60,-53,-52,-54,-56,-58,-60,-60.5,-56,
-51,-48,-45,-39,-35,-30,-26,-21,-17,-16,-15.5,-19,-25,-32,-38,-39,-40,-41,-43,-44,
-46,-48,-50,-51,-52,-52.5,-50,-48,-46,-44,-42,-40,-38,-36,-35,-36,-40,-45,-48,-53,
-59,-64,-72,-82,-86,-82,-76,-67,-60,-55,-54,-53,-52,-51.5,-51,-53,-56,-60,-61,-58,
-53,-49,-46,-44,-48,-49,-51,-45,-41,-36,-33,-29,-28.5,-27,-26,-25.5,-24.5,-21,-18,-12,
-5,-1,12,23,35,42,46,45,39,31,23,13,12,20,26,28,28.2,27,24,18,
12,7,2.5,.3,-5,-13,-13.5,-9,-4,-1,-1.5,-10,-11,-17,-20,-21,-25,-26,-28,-29,
-28,-26,-23,-19,-15,-12,-9,-5,-1,-9,-10,-10.5,-10.7,-5,-2,1,13,18,23,26,
26.5,17,13,8,6,5,4.5,4.7,5.5,6,5.5,3.5,2.5,.5,-2,-4,-3,-1.5,1,4,
7,9.5,11.5,13.5,15,14.5,26,34,39,50,63,71,72,71,69,68,65,61,55,49,
39,28,22,13,7,1,-13,-26,-36,-48,-54,-56,-47,-39,-33,-29,-26,-27,-36,-39,
-40,-41,-42,-40,-36,-29,-17,-1,12,21,23,24,24.3,23,18,15,9,5,1,-.5,
-2,-5,-12,-17,-23,-31,-32.5,-31,-29,-23,-15,-7,-1,1,2.5,4,7,9,15,18,
21,17,17.5,16.9,16.8,18,20,25,28,29,30,28,26,20,13,9,6,1,-1,-4,
-9,-13,-20,-21,-22,-23,-22,-21,-22,-21,-18,-15,-12,-9,-5,-2,2.5,6,8,7,
3.5,2,1,-.5,-3,-2,-4,-12,-16,-19,-21,-21.3,-20.5,-18,-16,-13,-2,-17,-25,-29,
-39,-53,-68,-77,-85,-91,-95,-98,-101,-106,-107,-106,-99,-91,-85,-77,-71,-66,-61,-54,
-47,-40,-36,-32,-28,-24,-21,-21.5,-21.8,-24,-18,-9,-1,6,10.5,14,12,13,14,14.5,
15,13,11,9,7.5,6,9,12,15,18,22,22.2,21.5,18,14.6,12,10.5,12,18,22,
21.5,23,20.5,21,22,23,22.8,22,21.7,22.3,25,30,36,44,55,66,75,82,84,82,
80,77,75,73,71,69,66,63,60,55,48,41,34,28,22,16,10,6,2,1,
0,-2,-9,-15,-20,-25,-35,-44,-49,-52,-52.5,-48,-42,-36,-28,-20,-16,-12,-13,-14,
-13.5,-9,-1,9.5,21,36,47,60,71,79,80,76,72,68,64,59,54,49,44,37,
35,33,32,31,29,28,25,21,18,11,2.5,1,-5,-13,-19,-20,-18,-15,-10,-4,
.3,6,10.5,15,19,22,26,30,42,53,64,71,75,73,71,69,71,73.5,75,75.2];
const wonder=wonderRaw.map(v=>v/1e4);

// Axis labels
const priceTicks=[1.085,1.08,1.075,1.07,1.065,1.06,1.055,1.05,1.045,1.04,1.035];
const stochTicks=[80,40,0];
const wonderTicks=[0.01,0,-0.01];
const timeBars=[46,82,118,166,202,238,286,322,358,406,442,478,526,562,598,646];
const timeLabels=['27','12:00','Май','4','12:00','9','11','12:00','16','18','12:00','23','25','12:00','30','Июн'];
const boldTimes=['Май','Июн'];
const titleText='Евро / Доллар США, 1Ч, FXCM';
const emaLegends=['EMA (200, close, 0)','EMA (55, close, 0)'];

const UP='#26a69a',DOWN='#ef5350',GRID='#242833',TXT='#b2b5be',LEG='#9598a1';
const FONT='Roboto, "Noto Sans", sans-serif';
const XMIN=0.4,XMAX=676,AXISW=155;
const pts=a=>a.map(p=>({x:p[0],y:p[1]}));
const seq=a=>a.map((v,k)=>({x:k+1,y:v}));
const lineDs=(data,color,width,order,extra)=>Object.assign({type:'line',data,borderColor:color,borderWidth:width,pointRadius:0,tension:0,fill:false,order,borderJoinStyle:'round'},extra||{});
const noPad=a=>{a.paddingTop=0;a.paddingBottom=0;a.paddingLeft=0;a.paddingRight=0;};
const nudgeLabels=(a,dy)=>{const proto=Object.getPrototypeOf(a);a._computeLabelItems=function(ca){const it=proto._computeLabelItems.call(this,ca);it.forEach(i=>{if(i.options&&i.options.translation)i.options.translation[1]+=dy});return it;};};

function xScale(labels){
  return {type:'linear',min:XMIN,max:XMAX,bounds:'data',offset:false,
    grid:{color:GRID,lineWidth:2,drawTicks:false,offset:false},border:{display:false},
    afterBuildTicks:a=>{a.ticks=timeBars.map(v=>({value:v}))},
    afterFit:a=>{a.height=labels?55:0;noPad(a)},
    ticks:labels?{display:true,autoSkip:false,maxRotation:0,padding:15,color:TXT,
       callback:(v)=>timeLabels[timeBars.indexOf(v)],
       font:c=>{const l=timeLabels[timeBars.indexOf(c.tick?c.tick.value:-1)];return {family:FONT,size:25,weight:boldTimes.includes(l)?'600':'400'}}
      }:{display:false}};
}
function yScale(min,max,vals,fmt){
  return {position:'right',min,max,bounds:'data',
    grid:{color:GRID,lineWidth:2,drawTicks:false},border:{display:false},
    afterBuildTicks:a=>{a.ticks=vals.map(v=>({value:v}))},
    afterFit:a=>{a.width=AXISW;noPad(a);nudgeLabels(a,3)},
    ticks:{autoSkip:false,padding:21,color:TXT,font:{family:FONT,size:26},callback:fmt}};
}
const baseOpts={responsive:false,animation:false,devicePixelRatio:1,maintainAspectRatio:false,
  layout:{padding:0},plugins:{legend:{display:false},tooltip:{enabled:false},title:{display:false}},
  events:[],datasets:{bar:{grouped:false}}};
const bg={id:'bg',beforeDraw(c){const x=c.ctx;x.save();x.fillStyle='#131722';x.fillRect(0,0,c.width,c.height);x.fillStyle='#141824';const a=c.chartArea;x.fillRect(a.left,a.top,a.right-a.left,a.bottom-a.top);x.restore();}};
function text(x,s,px,py,color,font,align){x.fillStyle=color;x.font=font;x.textAlign=align||'left';x.textBaseline='middle';x.fillText(s,px,py);}

const mainLabels={id:'mainLabels',afterDraw(c){
  const x=c.ctx,y=c.scales.y,a=c.chartArea,L=a.right,W=128;x.save();
  text(x,titleText,17,33,TXT,'500 25.5px '+FONT);
  text(x,emaLegends[0],17,68,LEG,'400 25px '+FONT);
  text(x,emaLegends[1],17,102,LEG,'400 25px '+FONT);
  text(x,'USD',3105,27,TXT,'400 25.5px '+FONT);
  const tag=(v,color,h,up)=>{x.fillStyle=color;x.beginPath();x.roundRect(L,y.getPixelForValue(v)-up,W,h,[0,4,4,0]);x.fill();};
  tag(stopPrice,'#f23645',34,17);
  text(x,stopPrice.toFixed(5),3110,y.getPixelForValue(stopPrice)+2,'#fff','400 26px '+FONT);
  tag(entryPrice,'#787b86',10,16);
  tag(lastPrice,'#ef5350',62,17);
  text(x,lastPrice.toFixed(5),3110,y.getPixelForValue(lastPrice)+2,'#fff','400 26px '+FONT);
  text(x,'42:57',3110,y.getPixelForValue(lastPrice)+30,'rgba(255,255,255,.7)','400 26px '+FONT);
  tag(targetPrice,'#089981',34,17);
  text(x,targetPrice.toFixed(5),3110,y.getPixelForValue(targetPrice)+2,'#fff','400 26px '+FONT);
  x.restore();}};

new Chart(document.getElementById('main'),{type:'bar',plugins:[bg,mainLabels],
 data:{datasets:[
  lineDs([{x:XMIN,y:lastPrice},{x:XMAX,y:lastPrice}],'#ef5350',2,1,{borderDash:[3,3]}),
  lineDs([{x:boxBars[0],y:entryPrice},{x:boxBars[1],y:entryPrice}],'#787b86',3,2),
  lineDs([{x:boxBars[0],y:stopPrice},{x:boxBars[1],y:stopPrice}],'rgba(242,54,69,.35)',2,3,{fill:{value:entryPrice},backgroundColor:'rgba(242,54,69,.2)'}),
  lineDs([{x:boxBars[0],y:targetPrice},{x:boxBars[1],y:targetPrice}],'rgba(8,153,129,.35)',2,3,{fill:{value:entryPrice},backgroundColor:'rgba(8,153,129,.2)'}),
  lineDs(pts(forecast),'#f23645',5,4,{tension:.35}),
  lineDs(pts(channelUpper),'#ffffff',2.5,5),
  lineDs(pts(channelLower),'#ffffff',2.5,5),
  {data:seq(opens.map((o,k)=>[o,closes[k]])),backgroundColor:closes.map((c,k)=>c>=opens[k]?UP:DOWN),barThickness:3.8,minBarLength:2,order:6},
  {data:seq(lows.map((l,k)=>[l,highs[k]])),backgroundColor:closes.map((c,k)=>c>=opens[k]?UP:DOWN),barThickness:1.8,order:7},
  lineDs(pts(ema55),'#ffeb3b',2.5,8),
  lineDs(pts(ema200),'#2196f3',2.5,9)
 ]},
 options:Object.assign({},baseOpts,{scales:{x:xScale(false),y:yScale(1.03002,1.08982,priceTicks,v=>v.toFixed(5))}})
});

const stochLabels={id:'stochLabels',afterDraw(c){const x=c.ctx;x.save();text(x,'Stoch (5, 3, 3)',17,35,LEG,'400 25px '+FONT);x.restore();}};
new Chart(document.getElementById('stoch'),{type:'bar',plugins:[bg,stochLabels],
 data:{datasets:[
  ...stochBands.map(v=>lineDs([{x:XMIN,y:v},{x:XMAX,y:v}],'#787b86',2.5,1,{borderDash:[12,10]})),
  lineDs(pts(stochD),'#ff6d00',2.2,2),
  lineDs(pts(stochK),'#2962ff',2.2,3)
 ]},
 options:Object.assign({},baseOpts,{scales:{x:xScale(false),y:yScale(-8.87,104,stochTicks,v=>v.toFixed(2))}})
});

const wonderLabels={id:'wonderLabels',afterDraw(c){const x=c.ctx;x.save();text(x,'Чудесн. осц.',17,36,LEG,'400 25px '+FONT);text(x,'CCI (14, close)',17,70,LEG,'400 25px '+FONT);x.restore();}};
new Chart(document.getElementById('wonder'),{type:'bar',plugins:[bg,wonderLabels],
 data:{datasets:[
  ...cciBands.map(v=>lineDs([{x:XMIN,y:v},{x:XMAX,y:v}],'#c4c5cb',2.5,1,{borderDash:[12,10],yAxisID:'yc'})),
  {data:seq(wonder),backgroundColor:wonder.map((v,k)=>(k===0||v>=wonder[k-1])?'#66bb6a':'#f44336'),barThickness:3.9,order:2,yAxisID:'y'},
  lineDs(pts(cci),'#2962ff',2,3,{yAxisID:'yc'})
 ]},
 options:Object.assign({},baseOpts,{scales:{x:xScale(true),
   y:yScale(-0.0128,0.01098,wonderTicks,v=>(v<0?'\u2212':'')+Math.abs(v).toFixed(5)),
   yc:{display:false,min:-415,max:402,position:'right'}}})
});
</script>
</body></html>
